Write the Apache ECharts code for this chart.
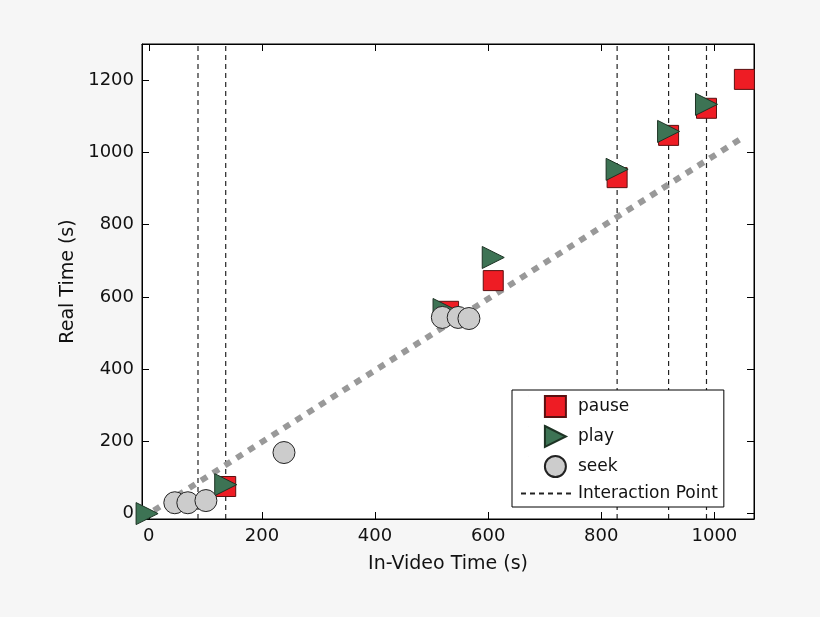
<!DOCTYPE html>
<html>
<head>
<meta charset="utf-8">
<script src="https://cdn.jsdelivr.net/npm/echarts@6/dist/echarts.min.js"></script>
<style>html,body{margin:0;background:#f6f6f6}#main{width:820px;height:617px}</style>
</head>
<body>
<div id="main"></div>
<script>
// 数据
var pauseData = [[136, 75], [530, 560], [609, 645], [828, 930], [919, 1047], [986, 1122], [1053, 1202]];
var playData = [[-3, 0], [136, 80], [522, 565], [609, 709], [828, 953], [919, 1058], [986, 1133]];
var seekData = [[46, 30], [69, 30], [101, 36], [239, 169], [519, 543], [547, 543], [566, 540]];
var interactionX = [87, 136, 828, 919, 986];
var trendLine = [[-12, -12], [1053, 1044]];
var xTicks = [0, 200, 400, 600, 800, 1000];
var yTicks = [0, 200, 400, 600, 800, 1000, 1200];

var chart = echarts.init(document.getElementById('main'));

var vlines = [];
interactionX.forEach(function (x) {
    vlines.push([x, -15], [x, 1300], '-');
});

var font = 'DejaVu Sans';
function axis(pos, ticks, min, max, label) {
    return {
        type: 'value', position: pos, min: min, max: max,
        splitLine: {show: false},
        axisLine: {show: true, onZero: false, lineStyle: {color: '#000'}},
        axisTick: {show: true, inside: true, length: 7, customValues: ticks, lineStyle: {color: '#000'}},
        axisLabel: {
            show: label, customValues: ticks, color: '#111', fontSize: 18, fontFamily: font, margin: 8,
            formatter: function (v) { return String(v); }
        }
    };
}
var xa = axis('bottom', xTicks, -12, 1070, true);
xa.name = 'In-Video Time (s)'; xa.nameLocation = 'middle'; xa.nameGap = 36;
xa.nameTextStyle = {fontSize: 19, fontFamily: font, color: '#111'};
var ya = axis('left', yTicks, -15, 1300, true);
ya.name = 'Real Time (s)'; ya.nameLocation = 'middle'; ya.nameGap = 62;
ya.nameTextStyle = {fontSize: 19, fontFamily: font, color: '#111'};

option = {
    animation: false,
    grid: {left: 142, right: 66, top: 44, bottom: 98, show: true, backgroundColor: '#fff', borderColor: '#000'},
    xAxis: [xa, axis('top', xTicks, -12, 1070, false)],
    yAxis: [ya, axis('right', yTicks, -15, 1300, false)],
    legend: {
        orient: 'vertical', left: 512, top: 390, width: 232,
        backgroundColor: '#fff', borderColor: '#000', borderWidth: 1, borderRadius: 0,
        padding: [5, 6, 5, 8], itemGap: 7, itemWidth: 52, itemHeight: 21,
        textStyle: {fontSize: 17, fontFamily: font, color: '#111', width: 165},
        data: [
            {name: 'pause', icon: 'path://M0,0h10v10h-10z M-8,0h0.01z'},
            {name: 'play', icon: 'path://M0,0L10,5L0,10Z M-8,0h0.01z'},
            {name: 'seek', icon: 'path://M10,5A5,5 0 1 1 0,5A5,5 0 1 1 10,5Z M-8,0h0.01z'},
            {name: 'Interaction Point', itemStyle: {opacity: 0}}
        ]
    },
    series: [
        {
            name: 'Interaction Point', type: 'line', data: vlines, symbol: 'none', connectNulls: false,
            lineStyle: {color: '#222', width: 1.2, type: [5, 4]}, itemStyle: {color: '#222'}, z: 1
        },
        {
            name: 'trend', type: 'line', data: trendLine, symbol: 'none',
            lineStyle: {color: '#999', width: 6, type: [7, 7]}, z: 2
        },
        {
            name: 'pause', type: 'scatter', data: pauseData, symbol: 'rect', symbolSize: 20,
            itemStyle: {color: '#ee1c24', borderColor: '#5a1010', borderWidth: 1, opacity: 1}, z: 3
        },
        {
            name: 'play', type: 'scatter', data: playData, symbol: 'triangle', symbolRotate: -90, symbolSize: 22,
            itemStyle: {color: '#3d7354', borderColor: '#1d3324', borderWidth: 1, opacity: 1}, z: 4
        },
        {
            name: 'seek', type: 'scatter', data: seekData, symbol: 'circle', symbolSize: 22,
            itemStyle: {color: '#cccccc', borderColor: '#222', borderWidth: 1, opacity: 1}, z: 5
        }
    ]
};
chart.setOption(option);
</script>
</body>
</html>
